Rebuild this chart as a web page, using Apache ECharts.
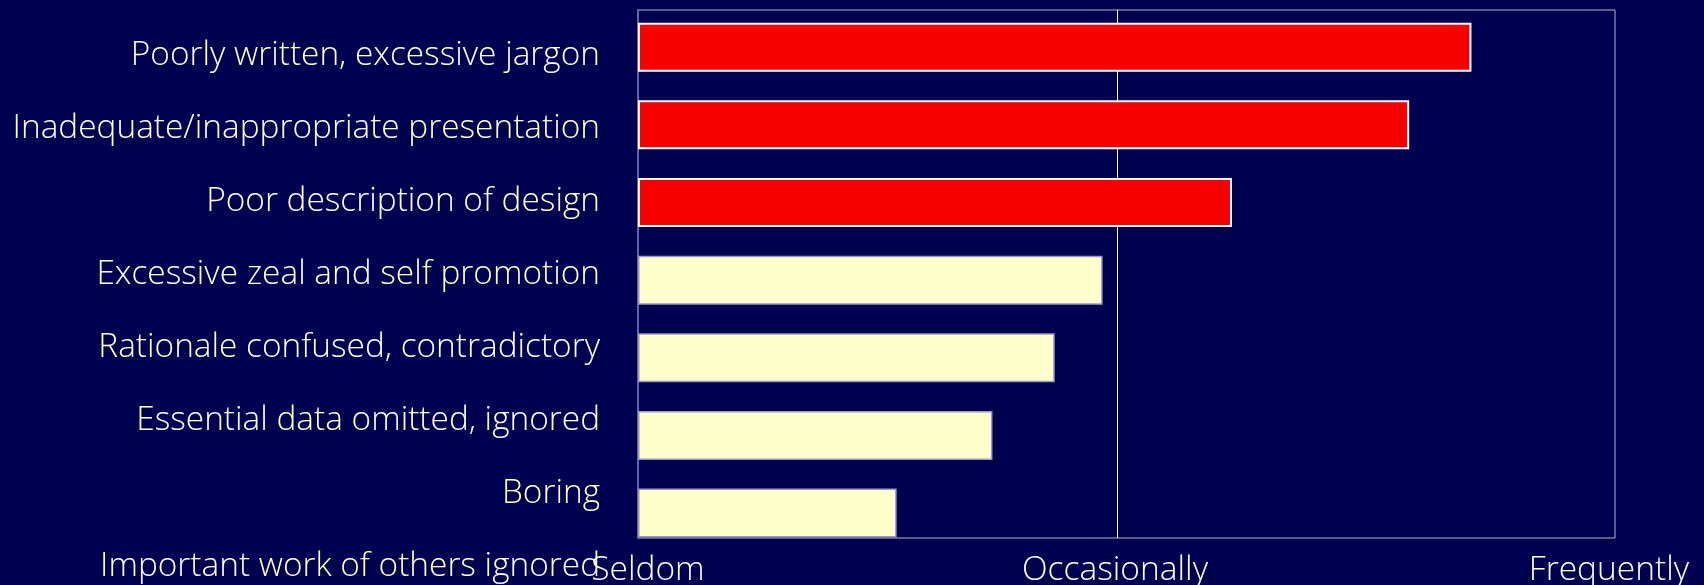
<!DOCTYPE html>
<html>
<head>
<meta charset="utf-8">
<script src="https://cdn.jsdelivr.net/npm/echarts@6/dist/echarts.min.js"></script>
<style>
  html, body { margin: 0; padding: 0; background: #000050; }
  #chart { width: 1704px; height: 585px; }
</style>
</head>
<body>
<div id="chart"></div>
<script>
// Problems reviewers find in submitted manuscripts, by how often they occur
const categories = [
  'Poorly written, excessive jargon',
  'Inadequate/inappropriate presentation',
  'Poor description of design',
  'Excessive zeal and self promotion',
  'Rationale confused, contradictory',
  'Essential data omitted, ignored',
  'Boring',
  'Important work of others ignored'
];
// word(s) in each category drawn in the accent colour
const highlighted = ['written', 'presentation', 'design', 'self promotion', 'Rationale', 'data', 'Boring', 'work of others'];
// 0 = seldom, 1 = occasionally, 2 = frequently
const frequency = [1.74, 1.61, 1.24, 0.97, 0.87, 0.74, 0.54, null];
// the most common problems are drawn in red
const severe = [true, true, true, false, false, false, false, false];
const scaleLabels = ['Seldom', 'Occasionally', 'Frequently'];

// ---- layout ----
const PLOT_LEFT = 638, PLOT_TOP = 10, PLOT_W = 977, PLOT_H = 528;
const UNIT = 479;              // pixels per step of the frequency scale
const BAR_TOP = 8.4, BAR_BAND = 77.64;
const LABEL_TOP = 18.5, LABEL_BAND = 73.1;
const FONT = '"Open Sans", "DejaVu Sans", sans-serif';
const CAT_SIZE = 33.4, AXIS_SIZE = 33.5, WEIGHT = 300;
const WHITE = '#ffffff', CREAM = '#ffffcc';

function richLabel(name) {
  const i = categories.indexOf(name);
  const word = highlighted[i];
  const k = name.indexOf(word);
  const before = name.slice(0, k), after = name.slice(k + word.length);
  let s = '';
  if (before) s += '{w|' + before + '}';
  s += '{y|' + word + '}';
  if (after) s += '{w|' + after + '}';
  return s;
}

const redStyle = { color: '#f70000', borderColor: '#ffffff', borderWidth: 2 };
const creamStyle = { color: '#ffffcc', borderColor: '#9a9abf', borderWidth: 1.5 };

const axisText = { color: WHITE, fontFamily: FONT, fontSize: AXIS_SIZE, fontWeight: WEIGHT };
const catText = { fontFamily: FONT, fontSize: CAT_SIZE, fontWeight: WEIGHT };

const chart = echarts.init(document.getElementById('chart'), null, { renderer: 'canvas' });

chart.setOption({
  animation: false,
  backgroundColor: '#000050',
  grid: [
    // frame with the scale labels
    { left: PLOT_LEFT, top: PLOT_TOP, width: PLOT_W, height: PLOT_H, outerBoundsMode: 'none', containLabel: false,
      show: true, borderColor: '#b4b4c8', borderWidth: 1, backgroundColor: 'transparent' },
    // bars
    { left: PLOT_LEFT, top: BAR_TOP, width: 2 * UNIT, height: BAR_BAND * categories.length,
      outerBoundsMode: 'none', containLabel: false, show: false },
    // category labels
    { left: PLOT_LEFT, top: LABEL_TOP, width: PLOT_W, height: LABEL_BAND * categories.length,
      outerBoundsMode: 'none', containLabel: false, show: false }
  ],
  xAxis: [
    { gridIndex: 0, type: 'value', min: 0, max: PLOT_W / UNIT, interval: 1,
      axisLine: { show: false }, axisTick: { show: false },
      splitLine: { show: true, lineStyle: { color: ['transparent', '#ffffff', 'transparent', 'transparent'], width: 1 } },
      axisLabel: Object.assign({
        show: true, margin: 15, showMaxLabel: false, hideOverlap: false,
        formatter: function (v) {
          const i = Math.round(v);
          if (Math.abs(v - i) > 1e-6 || !scaleLabels[i]) return '';
          return '{s' + i + '|' + scaleLabels[i] + '}';
        },
        rich: {
          s0: Object.assign({ padding: [0, 0, 0, 20] }, axisText),
          s1: Object.assign({ padding: [0, 4, 0, 0] }, axisText),
          s2: Object.assign({ padding: [0, 0, 0, 26] }, axisText)
        }
      }, axisText)
    },
    { gridIndex: 1, type: 'value', min: 0, max: 2, show: false, splitLine: { show: false } },
    { gridIndex: 2, type: 'value', min: 0, max: 1, show: false, splitLine: { show: false } }
  ],
  yAxis: [
    { gridIndex: 0, type: 'value', min: 0, max: 1,
      axisLine: { show: true, lineStyle: { color: '#6464a4', width: 2 } },
      axisTick: { show: false }, axisLabel: { show: false }, splitLine: { show: false } },
    { gridIndex: 1, type: 'category', data: categories, inverse: true, show: false },
    { gridIndex: 2, type: 'category', data: categories, inverse: true,
      axisLine: { show: false }, axisTick: { show: false }, splitLine: { show: false },
      axisLabel: Object.assign({
        show: true, margin: 38, color: WHITE, hideOverlap: false,
        formatter: richLabel,
        rich: {
          w: Object.assign({ color: WHITE }, catText),
          y: Object.assign({ color: CREAM }, catText)
        }
      }, catText)
    }
  ],
  series: [
    {
      type: 'bar',
      xAxisIndex: 1, yAxisIndex: 1,
      barWidth: 49,
      data: frequency.map((v, i) => ({ value: v, itemStyle: severe[i] ? redStyle : creamStyle })),
      z: 3
    }
  ]
});
</script>
</body>
</html>
